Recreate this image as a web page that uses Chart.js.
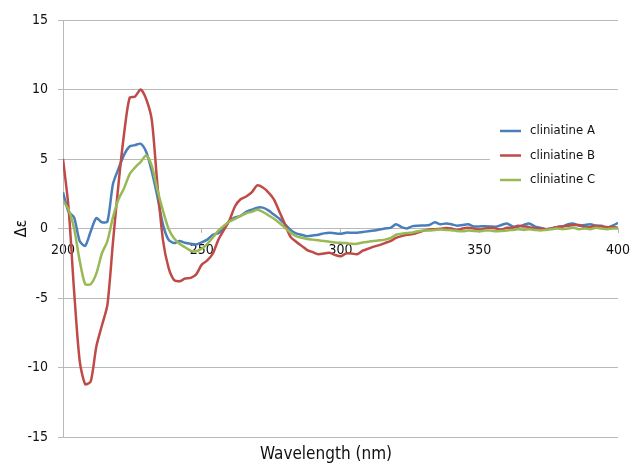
<!DOCTYPE html>
<html>
<head>
<meta charset="utf-8">
<script src="https://cdn.jsdelivr.net/npm/chart.js@4.4.0/dist/chart.umd.min.js"></script>
<style>
  html, body { margin: 0; padding: 0; background: #fff; }
  canvas { display: block; }
</style>
</head>
<body>
<canvas id="cdChart" width="632" height="465"></canvas>
<script>
// CD spectra, wavelength in nm (2 nm steps)
const wavelengths = [
  200, 202, 204, 206, 208, 210, 212, 214, 216, 218, 220, 222, 224, 226, 228, 230, 232, 234, 236, 238,
  240, 242, 244, 246, 248, 250, 252, 254, 256, 258, 260, 262, 264, 266, 268, 270, 272, 274, 276, 278,
  280, 282, 284, 286, 288, 290, 292, 294, 296, 298, 300, 302, 304, 306, 308, 310, 312, 314, 316, 318,
  320, 322, 324, 326, 328, 330, 332, 334, 336, 338, 340, 342, 344, 346, 348, 350, 352, 354, 356, 358,
  360, 362, 364, 366, 368, 370, 372, 374, 376, 378, 380, 382, 384, 386, 388, 390, 392, 394, 396, 398, 400
];

const cliniatineA = [
  2.6, 1.2, 0.8, -0.9, -1.25, -0.2, 0.75, 0.45, 0.5, 3.2, 4.3, 5.3, 5.9, 6.0, 6.1, 5.5, 4.1, 2.3, 0.3, -0.8,
  -1.05, -0.9, -1.03, -1.1, -1.15, -1.0, -0.8, -0.45, -0.33, 0.05, 0.55, 0.8, 0.9, 1.2, 1.35, 1.5, 1.5, 1.3, 1.0, 0.7,
  0.3, -0.1, -0.35, -0.45, -0.55, -0.5, -0.45, -0.35, -0.3, -0.35, -0.38, -0.3, -0.3, -0.3, -0.25, -0.2, -0.15, -0.07, 0.0, 0.05,
  0.3, 0.1, 0.0, 0.17, 0.2, 0.22, 0.25, 0.45, 0.3, 0.36, 0.3, 0.2, 0.25, 0.3, 0.15, 0.15, 0.17, 0.15, 0.12, 0.25,
  0.36, 0.15, 0.12, 0.25, 0.36, 0.15, 0.05, -0.05, 0.0, 0.1, 0.15, 0.3, 0.35, 0.2, 0.25, 0.3, 0.2, 0.2, 0.05, 0.2, 0.4
];

const cliniatineB = [
  5.0, 1.5, -4.5, -9.5, -11.2, -11.0, -8.5, -7.0, -5.5, -1.0, 3.2, 6.8, 9.4, 9.5, 10.0, 9.3, 7.8, 3.2, -0.8, -2.8,
  -3.7, -3.8, -3.6, -3.55, -3.3, -2.6, -2.3, -1.8, -0.8, -0.1, 0.6, 1.6, 2.1, 2.3, 2.6, 3.1, 2.95, 2.6, 2.1, 1.2,
  0.3, -0.6, -0.95, -1.25, -1.55, -1.7, -1.85, -1.8, -1.75, -1.9, -2.0, -1.8, -1.8, -1.85, -1.6, -1.45, -1.3, -1.2, -1.05, -0.9,
  -0.68, -0.55, -0.45, -0.4, -0.28, -0.15, -0.07, -0.05, -0.02, 0.03, 0.0, -0.1, 0.0, 0.05, 0.0, -0.07, 0.0, 0.05, 0.0, -0.07,
  0.05, 0.05, 0.2, 0.15, 0.1, 0.0, 0.0, -0.05, 0.0, 0.1, 0.15, 0.2, 0.25, 0.25, 0.1, 0.1, 0.2, 0.15, 0.1, 0.1, 0.05
];

const cliniatineC = [
  2.0, 1.37, 0.0, -2.3, -4.0, -4.0, -3.25, -1.8, -0.9, 0.8, 2.1, 2.9, 3.9, 4.4, 4.8, 5.25, 4.5, 2.8, 1.3, 0.0,
  -0.7, -1.1, -1.35, -1.6, -1.63, -1.45, -1.1, -0.65, -0.15, 0.2, 0.5, 0.7, 0.9, 1.1, 1.2, 1.35, 1.2, 0.95, 0.7, 0.4,
  0.05, -0.3, -0.55, -0.67, -0.75, -0.8, -0.85, -0.9, -0.95, -1.0, -1.03, -1.05, -1.1, -1.1, -1.0, -0.95, -0.9, -0.85, -0.8, -0.7,
  -0.45, -0.38, -0.32, -0.28, -0.2, -0.15, -0.15, -0.1, -0.07, -0.1, -0.12, -0.18, -0.2, -0.15, -0.18, -0.2, -0.15, -0.15, -0.2, -0.18,
  -0.15, -0.1, -0.05, -0.1, -0.05, -0.1, -0.15, -0.1, -0.05, 0.0, -0.05, 0.0, 0.05, -0.05, 0.0, -0.05, 0.05, 0.0, -0.05, 0.0, 0.0
];

const seriesNames = ['cliniatine A', 'cliniatine B', 'cliniatine C'];
const seriesColors = ['#4a7ebb', '#be4b48', '#98b954'];
const yTicks = [-15, -10, -5, 0, 5, 10, 15];

const FONT = '"DejaVu Sans Condensed", "DejaVu Sans", sans-serif';
const GRID = '#b9b9b9';

const toPoints = vals => wavelengths.map((x, i) => ({ x: x, y: vals[i] }));

// legend box inside the plot, plus the bottom axis title
const overlayPlugin = {
    id: 'overlay',
    afterDraw(chart) {
        const ctx = chart.ctx;
        ctx.save();
        ctx.fillStyle = '#fff';
        ctx.fillRect(490, 112, 142, 86);
        ctx.font = '13px ' + FONT;
        ctx.textBaseline = 'middle';
        ctx.textAlign = 'left';
        seriesNames.forEach((name, i) => {
            const y = 131 + i * 24.5;
            ctx.strokeStyle = seriesColors[i];
            ctx.lineWidth = 2.5;
            ctx.beginPath();
            ctx.moveTo(500, y);
            ctx.lineTo(521, y);
            ctx.stroke();
            ctx.fillStyle = '#111';
            ctx.fillText(name, 530, y);
        });
        ctx.font = '17px ' + FONT;
        ctx.textAlign = 'center';
        ctx.fillStyle = '#111';
        ctx.fillText('Wavelength (nm)', 326, 455);
        ctx.restore();
    }
};

new Chart(document.getElementById('cdChart'), {
    type: 'line',
    data: {
        datasets: [cliniatineA, cliniatineB, cliniatineC].map((vals, i) => ({
            label: seriesNames[i],
            data: toPoints(vals),
            borderColor: seriesColors[i],
            borderWidth: 2.5,
            pointRadius: 0,
            tension: 0.25,
            fill: false,
            order: 2 - i
        }))
    },
    options: {
        responsive: false,
        animation: false,
        devicePixelRatio: 1,
        layout: { padding: { left: 0, right: 14, top: 20, bottom: 28 } },
        plugins: {
            legend: { display: false },
            tooltip: { enabled: false }
        },
        scales: {
            x: {
                type: 'linear',
                min: 200,
                max: 400,
                position: { y: 0 },
                afterFit: axis => { axis.paddingLeft = 0; axis.paddingRight = 0; },
                ticks: {
                    stepSize: 50,
                    color: '#111',
                    font: { family: FONT, size: 14 },
                    padding: 9,
                    maxRotation: 0
                },
                grid: { drawOnChartArea: false, color: GRID, tickLength: 4 },
                border: { display: true, color: GRID }
            },
            y: {
                min: -15,
                max: 15,
                afterBuildTicks: axis => { axis.ticks = yTicks.map(v => ({ value: v })); },
                afterFit: axis => { axis.width = 63; },
                ticks: {
                    color: '#111',
                    font: { family: FONT, size: 14 },
                    padding: 10
                },
                grid: { color: GRID, tickLength: 5 },
                border: { display: true, color: GRID },
                title: {
                    display: true,
                    text: 'Δε',
                    color: '#111',
                    font: { family: FONT, size: 16 },
                    padding: { top: 12, bottom: 0 }
                }
            }
        }
    },
    plugins: [overlayPlugin]
});
</script>
</body>
</html>
